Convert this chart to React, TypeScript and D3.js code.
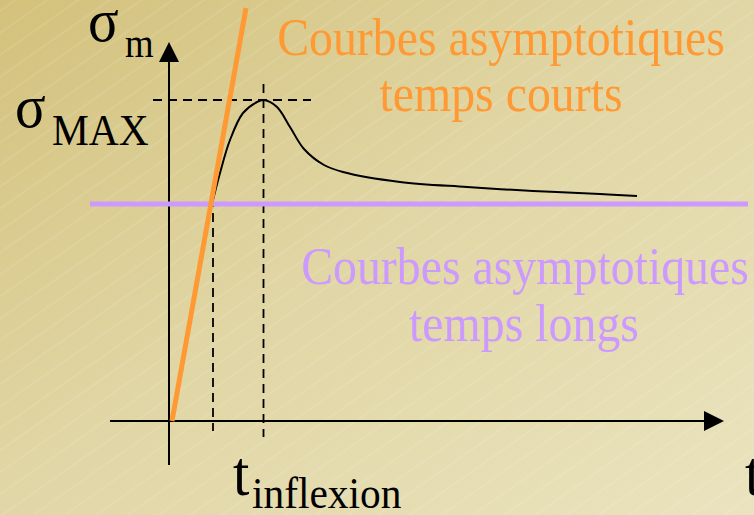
import React, { useEffect, useRef } from "react";
import * as d3 from "d3";

// ---- data (time units / stress units) ----
const curveT = [8.2, 9.6, 11.6, 14.2, 17, 18.4, 21, 23.6, 26.4, 30.4, 34.2, 45.6, 59, 72.2, 85.6, 93];
const curveS = [55.25, 62, 70.25, 77, 79.75, 80.25, 78.5, 73.5, 68.0, 64.0, 62.25, 59.75, 58.5, 57.5, 56.75, 56.25];
const shortT = [0, 14.8];
const shortS = [0, 103.25];
const longT = [-16.4, 115.2];
const longS = [54.25, 54.25];
const peakT = 18.3;
const peakS = 80.25;
const inflT = 8.2;
const inflS = 55.75;
const labelsShort = ["Courbes asymptotiques", "temps courts"];
const labelsLong = ["Courbes asymptotiques", "temps longs"];

const W = 754;
const H = 515;
const x = d3.scaleLinear().domain([0, 100]).range([172, 672]);
const y = d3.scaleLinear().domain([0, 100]).range([421, 21]);

const FONT = '"Liberation Serif", Tinos, "Times New Roman", FreeSerif, "DejaVu Serif", serif';
const SX = 0.92;

function T({ x0, y0, size, fill = "#000", anchor = "start", children }: any) {
  return (
    <text
      x={0}
      y={0}
      transform={`translate(${x0},${y0}) scale(${SX},1)`}
      fontFamily={FONT}
      fontSize={size}
      style={{ fontFamily: FONT, fontSize: size + "px" }}
      fill={fill}
      textAnchor={anchor}
    >
      {children}
    </text>
  );
}

export default function App() {
  const ref = useRef<SVGSVGElement>(null);
  useEffect(() => {
    if (ref.current) {
      d3.select(ref.current).selectAll("text").style("font-family", FONT, "important");
    }
  }, []);

  const line = d3
    .line<number>()
    .x((_, i) => x(curveT[i]))
    .y((d) => y(d))
    .curve(d3.curveCatmullRom.alpha(0.5));
  const curvePath = line(curveS) || "";

  const axX = x(-0.6);
  const axY = y(0);

  return (
    <svg
      ref={ref}
      width={W}
      height={H}
      fontFamily={FONT}
      style={{ position: "absolute", left: 0, top: 0, display: "block", fontFamily: FONT }}
    >
      <defs>
        <linearGradient id="bg" x1="0" y1="0" x2="1" y2="1">
          <stop offset="0" stopColor="#D3C17B" />
          <stop offset="0.45" stopColor="#E0D5A3" />
          <stop offset="1" stopColor="#EAE3BE" />
        </linearGradient>
        <pattern
          id="hatch"
          width="18"
          height="18"
          patternUnits="userSpaceOnUse"
          patternTransform="rotate(-35)"
        >
          <line x1="0" y1="9" x2="18" y2="9" stroke="#ffffff" strokeOpacity="0.25" strokeWidth="0.7" />
        </pattern>
      </defs>
      <rect width={W} height={H} fill="url(#bg)" />
      <rect width={W} height={H} fill="url(#hatch)" />

      {/* axes */}
      <line x1={axX} y1={y(-11)} x2={axX} y2={y(90)} stroke="#000" strokeWidth={2} />
      <path
        d={`M${axX},${y(94.75)} L${axX - 10},${y(89.75)} L${axX + 10},${y(89.75)} Z`}
        fill="#000"
      />
      <line x1={x(-12.4)} y1={axY} x2={x(107)} y2={axY} stroke="#000" strokeWidth={2} />
      <path
        d={`M${x(110.4)},${axY} L${x(106.4)},${axY - 10} L${x(106.4)},${axY + 10} Z`}
        fill="#000"
      />

      {/* dashed guides */}
      <g stroke="#000" strokeWidth={1.8} strokeDasharray="9,6" fill="none">
        <line x1={x(-3.8)} y1={y(peakS)} x2={x(27.8)} y2={y(peakS)} />
        <line x1={x(peakT)} y1={y(84.25)} x2={x(peakT)} y2={y(-4)} />
        <line x1={x(inflT)} y1={y(inflS)} x2={x(inflT)} y2={y(-2.5)} />
      </g>

      {/* long-time asymptote */}
      <line
        x1={x(longT[0])}
        y1={y(longS[0])}
        x2={x(longT[1])}
        y2={y(longS[1])}
        stroke="#CC99FF"
        strokeWidth={5}
      />

      {/* curve */}
      <path d={curvePath} fill="none" stroke="#000" strokeWidth={2} />

      {/* short-time asymptote */}
      <line
        x1={x(shortT[0])}
        y1={y(shortS[0])}
        x2={x(shortT[1])}
        y2={y(shortS[1])}
        stroke="#FF9933"
        strokeWidth={5}
      />

      {/* labels */}
      <T x0={501} y0={55} size={52} fill="#FF9933" anchor="middle">{labelsShort[0]}</T>
      <T x0={501} y0={111} size={52} fill="#FF9933" anchor="middle">{labelsShort[1]}</T>
      <T x0={525} y0={284} size={52} fill="#CC99FF" anchor="middle">{labelsLong[0]}</T>
      <T x0={524} y0={341} size={52} fill="#CC99FF" anchor="middle">{labelsLong[1]}</T>

      <T x0={88} y0={41} size={62}>σ</T>
      <T x0={125} y0={57} size={40}>m</T>
      <T x0={15} y0={127} size={62}>σ</T>
      <T x0={52} y0={145} size={45}>MAX</T>

      <T x0={233} y0={495} size={64}>t</T>
      <T x0={252} y0={508} size={45}>inflexion</T>
      <T x0={745} y0={495} size={64}>t</T>
    </svg>
  );
}
